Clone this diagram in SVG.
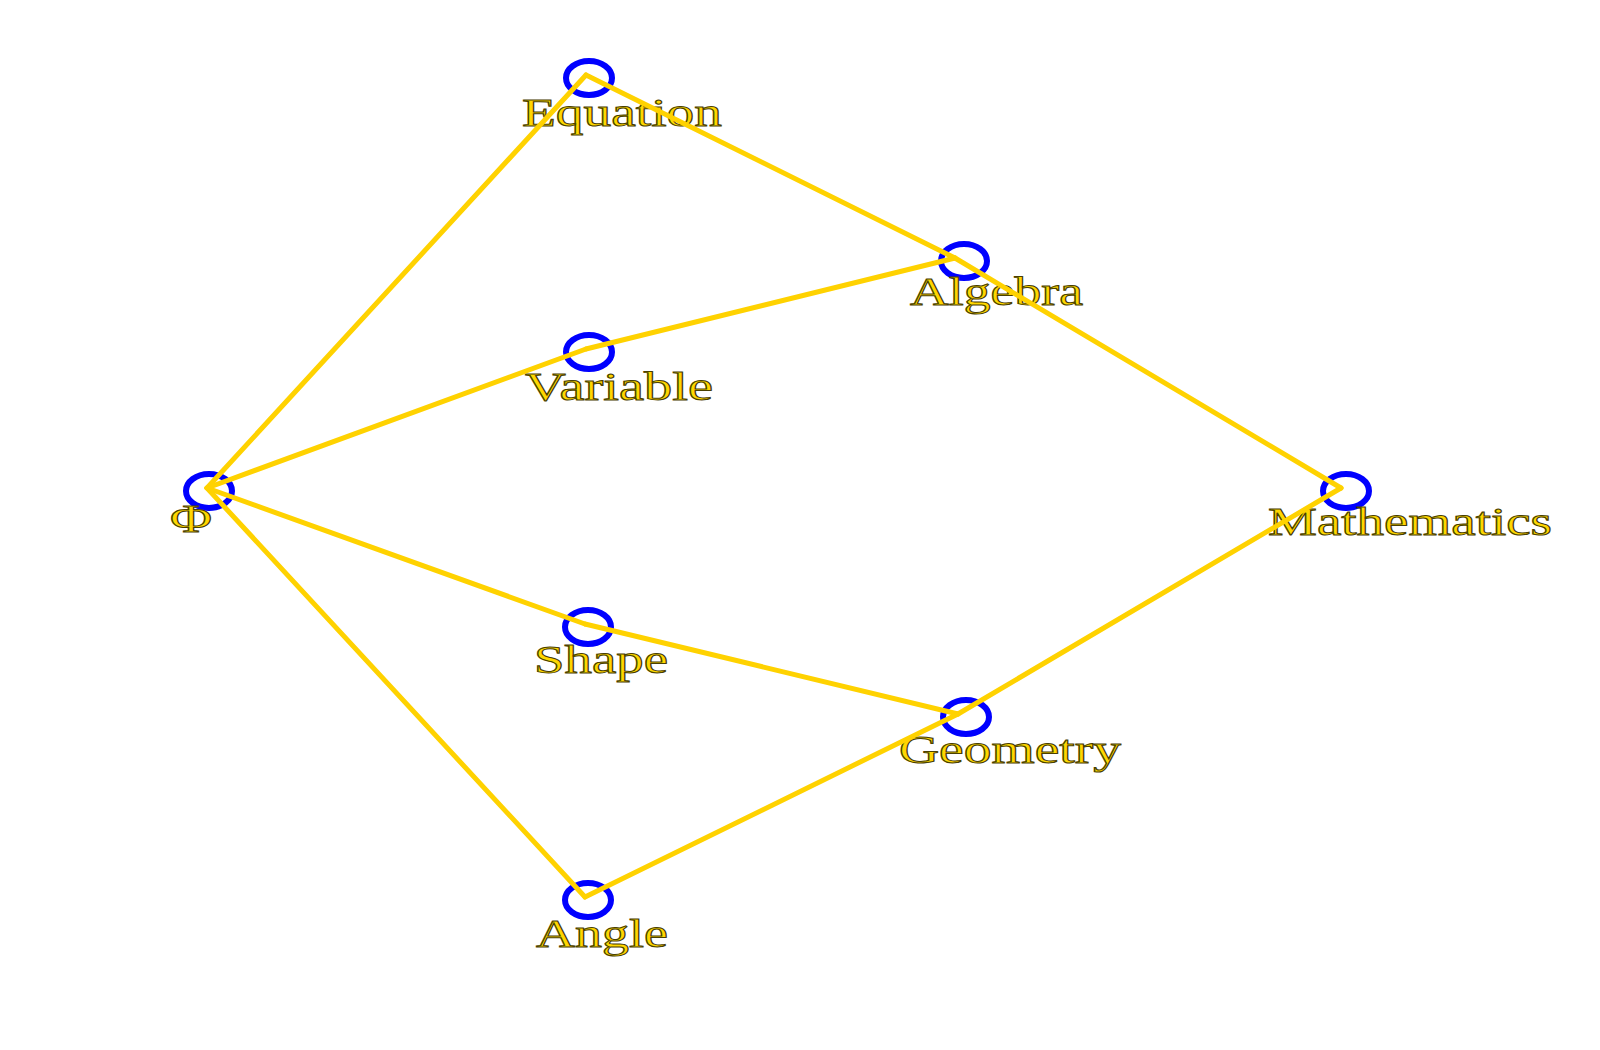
<svg xmlns="http://www.w3.org/2000/svg" width="1600" height="1050" viewBox="0 0 1600 1050">
<style>
.node ellipse{fill:none;stroke:#0000FF;stroke-width:6}
.node text{font-family:"Liberation Serif","Times New Roman",serif;font-size:39px;fill:#FFD700;stroke:#4a4000;stroke-width:1}
.edges line{stroke:#FFD200;stroke-width:5;stroke-linecap:round}
</style>
<rect width="1600" height="1050" fill="#FFFFFF"/>
<g id="node-equation" class="node"><ellipse cx="589" cy="78" rx="23" ry="17"/><text x="522" y="126" textLength="200" lengthAdjust="spacingAndGlyphs">Equation</text></g>
<g id="node-algebra" class="node"><ellipse cx="964" cy="261" rx="23" ry="17"/><text x="910" y="305" textLength="173" lengthAdjust="spacingAndGlyphs">Algebra</text></g>
<g id="node-variable" class="node"><ellipse cx="589" cy="352" rx="23" ry="17"/><text x="525" y="400" textLength="188" lengthAdjust="spacingAndGlyphs">Variable</text></g>
<g id="node-phi" class="node"><ellipse cx="209" cy="491" rx="23" ry="17"/><text x="170" y="532" textLength="42" lengthAdjust="spacingAndGlyphs">Φ</text></g>
<g id="node-mathematics" class="node"><ellipse cx="1346" cy="491" rx="23" ry="17"/><text x="1268" y="535" textLength="284" lengthAdjust="spacingAndGlyphs">Mathematics</text></g>
<g id="node-shape" class="node"><ellipse cx="588" cy="627" rx="23" ry="17"/><text x="534" y="673" textLength="134" lengthAdjust="spacingAndGlyphs">Shape</text></g>
<g id="node-geometry" class="node"><ellipse cx="966" cy="717" rx="23" ry="17"/><text x="899" y="763" textLength="222" lengthAdjust="spacingAndGlyphs">Geometry</text></g>
<g id="node-angle" class="node"><ellipse cx="588" cy="900" rx="23" ry="17"/><text x="536" y="947" textLength="132" lengthAdjust="spacingAndGlyphs">Angle</text></g>
<g id="edges" class="edges">
<line x1="207" y1="488" x2="586" y2="75"/>
<line x1="207" y1="488" x2="586" y2="349"/>
<line x1="207" y1="488" x2="585" y2="624"/>
<line x1="207" y1="488" x2="585" y2="897"/>
<line x1="586" y1="75" x2="955" y2="258"/>
<line x1="586" y1="349" x2="955" y2="258"/>
<line x1="955" y1="258" x2="1341" y2="488"/>
<line x1="585" y1="624" x2="958" y2="714"/>
<line x1="585" y1="897" x2="958" y2="714"/>
<line x1="958" y1="714" x2="1341" y2="488"/>
</g>
</svg>
